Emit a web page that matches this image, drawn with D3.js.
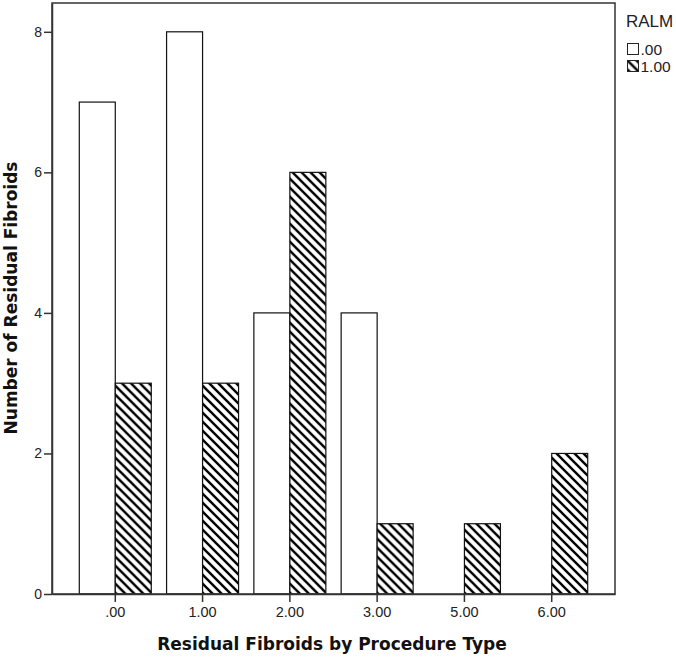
<!DOCTYPE html>
<html>
<head>
<meta charset="utf-8">
<script src="https://cdn.jsdelivr.net/npm/d3@7"></script>
<style>
  body { margin: 0; background: #fff; }
</style>
</head>
<body>
<div id="chart"></div>
<script>
// Data
const categories = [".00", "1.00", "2.00", "3.00", "5.00", "6.00"];
const seriesNames = [".00", "1.00"];
const ralm0 = [7, 8, 4, 4, 0, 0];
const ralm1 = [3, 3, 6, 1, 1, 2];
const yTicks = [0, 2, 4, 6, 8];

const W = 676, H = 657;
const plot = { left: 52, top: 3, right: 615, bottom: 594 };

const svg = d3.select("#chart")
    .append("svg")
    .attr("width", W)
    .attr("height", H);

// Hatch pattern for RALM = 1.00
const defs = svg.append("defs");
const pat = defs.append("pattern")
    .attr("id", "hatch")
    .attr("patternUnits", "userSpaceOnUse")
    .attr("width", 9)
    .attr("height", 9);
pat.append("rect").attr("width", 9).attr("height", 9).attr("fill", "#fff");
pat.append("path")
    .attr("d", "M-3,6 L3,12 M0,0 L9,9 M6,-3 L12,3")
    .attr("stroke", "#000")
    .attr("stroke-width", 2.4);

// Scales
const x = d3.scaleBand()
    .domain(categories)
    .range([plot.left, plot.right])
    .paddingInner(0)
    .paddingOuter(0.225);

const xSub = d3.scaleBand()
    .domain(seriesNames)
    .range([0, x.bandwidth()])
    .paddingInner(0)
    .paddingOuter(0.2125);

const y = d3.scaleLinear()
    .domain([0, 8.41])
    .range([plot.bottom, plot.top]);

// Bars
const rows = categories.map((c, i) => ({ cat: c, values: [ralm0[i], ralm1[i]] }));

const groups = svg.append("g").selectAll("g")
    .data(rows)
    .join("g")
    .attr("transform", d => `translate(${x(d.cat)},0)`);

groups.selectAll("rect")
    .data(d => d.values.map((v, j) => ({ key: seriesNames[j], v: v })).filter(e => e.v > 0))
    .join("rect")
    .attr("x", d => xSub(d.key))
    .attr("y", d => y(d.v))
    .attr("width", xSub.bandwidth())
    .attr("height", d => y(0) - y(d.v))
    .attr("fill", d => d.key === ".00" ? "#fff" : "url(#hatch)")
    .attr("stroke", "#111")
    .attr("stroke-width", 1.2);

// Frame
svg.append("rect")
    .attr("x", plot.left)
    .attr("y", plot.top)
    .attr("width", plot.right - plot.left)
    .attr("height", plot.bottom - plot.top)
    .attr("fill", "none")
    .attr("stroke", "#333")
    .attr("stroke-width", 1.5);

// Axes
const xAxis = d3.axisBottom(x).tickSize(8).tickSizeOuter(0);
const yAxis = d3.axisLeft(y).tickValues(yTicks).tickSize(8).tickSizeOuter(0).tickFormat(d3.format("d"));

const gx = svg.append("g")
    .attr("transform", `translate(0,${plot.bottom})`)
    .call(xAxis);
gx.select(".domain").attr("stroke", "#333").attr("stroke-width", 1.5);
gx.selectAll(".tick line").attr("stroke", "#333").attr("stroke-width", 1.5);
gx.selectAll(".tick text")
    .attr("y", 23)
    .attr("dy", 0)
    .attr("font-family", "Liberation Sans, Arial, sans-serif")
    .attr("font-size", 14.5)
    .attr("fill", "#222");

const gy = svg.append("g")
    .attr("transform", `translate(${plot.left},0)`)
    .call(yAxis);
gy.select(".domain").attr("stroke", "#333").attr("stroke-width", 1.5);
gy.selectAll(".tick line").attr("stroke", "#333").attr("stroke-width", 1.5);
gy.selectAll(".tick text")
    .attr("x", -10)
    .attr("font-family", "Liberation Sans, Arial, sans-serif")
    .attr("font-size", 14)
    .attr("fill", "#222");

// Axis titles
svg.append("text")
    .attr("x", 332)
    .attr("y", 650)
    .attr("text-anchor", "middle")
    .attr("font-family", "DejaVu Sans, Verdana, sans-serif")
    .attr("font-weight", "bold")
    .attr("font-size", 17)
    .attr("fill", "#111")
    .text("Residual Fibroids by Procedure Type");

svg.append("text")
    .attr("transform", `translate(17,298) rotate(-90)`)
    .attr("text-anchor", "middle")
    .attr("font-family", "DejaVu Sans, Verdana, sans-serif")
    .attr("font-weight", "bold")
    .attr("font-size", 17)
    .attr("fill", "#111")
    .text("Number of Residual Fibroids");

// Legend
const legend = svg.append("g").attr("transform", "translate(626,0)");
legend.append("text")
    .attr("x", 0)
    .attr("y", 27)
    .attr("font-family", "Liberation Sans, Arial, sans-serif")
    .attr("font-size", 17)
    .attr("fill", "#222")
    .text("RALM");

const items = legend.selectAll("g.item")
    .data(seriesNames)
    .join("g")
    .attr("class", "item")
    .attr("transform", (d, i) => `translate(1.5,${43.5 + i * 17})`);
items.append("rect")
    .attr("width", 11)
    .attr("height", 11)
    .attr("fill", d => d === ".00" ? "#fff" : "url(#hatch)")
    .attr("stroke", "#222")
    .attr("stroke-width", 1);
items.append("text")
    .attr("x", 13)
    .attr("y", 11)
    .attr("font-family", "Liberation Sans, Arial, sans-serif")
    .attr("font-size", 15.5)
    .attr("fill", "#222")
    .text(d => d);
</script>
</body>
</html>
